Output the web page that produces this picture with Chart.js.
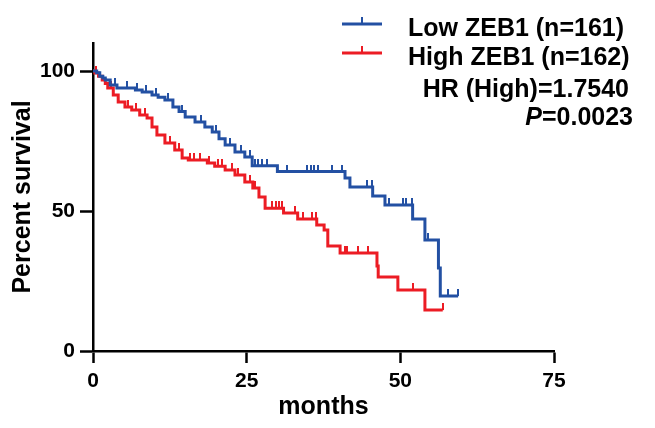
<!DOCTYPE html>
<html>
<head>
<meta charset="utf-8">
<script src="https://cdn.jsdelivr.net/npm/chart.js@4.4.1/dist/chart.umd.min.js"></script>
<style>
  html, body { margin: 0; padding: 0; background: #fff; }
  #wrap { width: 655px; height: 428px; }
</style>
</head>
<body>
<div id="wrap"><canvas id="kmChart" width="655" height="428"></canvas></div>
<script>
// Kaplan-Meier steps: time (months) where survival drops, and the new level (%)
const lowTimes = [0, 0.6, 1.1, 1.6, 2.0, 2.8, 3.9, 6.9, 8.0, 9.6, 10.6, 11.7, 13.0, 14.0, 15.0, 16.6, 18.2, 19.4, 20.5, 21.5, 23.1, 24.7, 25.9, 30.0, 41.0, 41.8, 45.5, 47.5, 52.0, 54.0, 56.2, 56.5]
const lowSurvival = [100, 99.4, 98.1, 97.5, 96.8, 95.0, 93.9, 93.2, 92.5, 91.4, 90.6, 89.6, 87.1, 85.5, 83.6, 81.8, 80.0, 78.2, 75.8, 73.6, 71.1, 69.3, 66.2, 64.1, 61.8, 58.6, 55.4, 52.1, 47.1, 39.6, 29.6, 19.6]
const lowCensored = [3.5, 5.5, 7.2, 8.6, 10.2, 12.2, 14.5, 17.5, 20.0, 22.3, 24.0, 25.5, 26.3, 26.8, 27.5, 28.3, 31.6, 34.8, 35.4, 36.0, 36.6, 38.9, 40.5, 44.6, 45.4, 48.2, 50.4, 51.0, 51.9, 54.5, 57.8, 59.4]

const highTimes = [0, 0.3, 0.9, 1.5, 2.0, 2.4, 3.3, 4.1, 5.2, 6.3, 7.6, 8.8, 9.6, 10.4, 11.7, 13.3, 14.5, 15.5, 18.6, 19.8, 21.5, 23.1, 24.7, 26.0, 27.0, 28.0, 31.0, 33.3, 36.4, 37.6, 38.2, 40.2, 46.2, 46.4, 49.6, 54.0]
const highSurvival = [100, 99.3, 98.1, 96.8, 95.5, 93.9, 91.4, 88.9, 87.1, 86.1, 84.3, 83.2, 80.0, 77.1, 74.3, 71.8, 68.9, 68.2, 67.1, 66.0, 64.6, 62.9, 60.4, 58.2, 55.0, 51.0, 49.3, 47.1, 45.0, 43.2, 37.5, 35.0, 30.4, 26.4, 21.8, 14.6]
const highCensored = [0.5, 3.0, 5.7, 7.0, 8.5, 12.5, 14.0, 15.8, 16.4, 17.4, 18.9, 20.3, 21.0, 22.6, 23.6, 25.5, 26.3, 29.2, 29.8, 30.3, 30.8, 32.9, 34.2, 35.6, 36.2, 41.0, 41.4, 43.1, 44.7, 52.0, 56.9]

const groupLabels = ['Low ZEB1 (n=161)', 'High ZEB1 (n=162)']
const hrText = 'HR (High)=1.7540'
const pText = '=0.0023'
const xTicks = [0, 25, 50, 75]
const yTicks = [0, 50, 100]

const BLUE = '#2350a3'
const RED = '#ec1c24'
const FONT = '"Liberation Sans", Arial, Helvetica, sans-serif'

function levelAt(times, surv, t) {
  let v = surv[0]
  for (let i = 0; i < times.length; i++) {
    if (times[i] <= t) v = surv[i]
  }
  return v
}

function curve(times, surv, censored) {
  const pts = times.map((t, i) => ({ x: t, y: surv[i] }))
  const end = censored[censored.length - 1]
  pts.push({ x: end, y: levelAt(times, surv, end) })
  return pts
}

function marks(times, surv, censored) {
  return censored.map(t => ({ x: t, y: levelAt(times, surv, t) }))
}

// small upward tick used for censored cases
function censorMark(color) {
  const c = document.createElement('canvas')
  c.width = 2
  c.height = 14
  const g = c.getContext('2d')
  g.fillStyle = color
  g.fillRect(0, 0, 2, 7)
  return c
}

const legendPlugin = {
  id: 'gpLegend',
  afterDraw(chart) {
    const ctx = chart.ctx
    ctx.save()
    const rows = [[BLUE, 24, 36], [RED, 53, 65]]
    rows.forEach(([color, ly, by], i) => {
      ctx.strokeStyle = color
      ctx.lineWidth = 3
      ctx.beginPath()
      ctx.moveTo(342, ly)
      ctx.lineTo(382, ly)
      ctx.stroke()
      ctx.lineWidth = 2
      ctx.beginPath()
      ctx.moveTo(362, ly)
      ctx.lineTo(362, ly - 7)
      ctx.stroke()
      ctx.fillStyle = '#000'
      ctx.font = 'bold 25px ' + FONT
      ctx.textAlign = 'left'
      ctx.textBaseline = 'alphabetic'
      ctx.fillText(groupLabels[i], 408, by)
    })
    ctx.textAlign = 'right'
    ctx.fillText(hrText, 629, 97)
    ctx.fillText(pText, 633, 125)
    const w = ctx.measureText(pText).width
    ctx.font = 'italic bold 25px ' + FONT
    ctx.fillText('P', 633 - w, 125)
    ctx.restore()
  }
}

const ctx = document.getElementById('kmChart')

new Chart(ctx, {
  type: 'line',
  data: {
    datasets: [
      {
        label: groupLabels[0],
        data: curve(lowTimes, lowSurvival, lowCensored),
        borderColor: BLUE,
        borderWidth: 3,
        stepped: true,
        pointRadius: 0,
        clip: 6
      },
      {
        type: 'scatter',
        data: marks(lowTimes, lowSurvival, lowCensored),
        pointStyle: censorMark(BLUE),
        clip: 10
      },
      {
        label: groupLabels[1],
        data: curve(highTimes, highSurvival, highCensored),
        borderColor: RED,
        borderWidth: 3,
        stepped: true,
        pointRadius: 0,
        clip: 6
      },
      {
        type: 'scatter',
        data: marks(highTimes, highSurvival, highCensored),
        pointStyle: censorMark(RED),
        clip: 10
      }
    ]
  },
  options: {
    responsive: false,
    animation: false,
    layout: { padding: { top: 43, right: 101, left: 0, bottom: 0 } },
    plugins: {
      legend: { display: false },
      tooltip: { enabled: false }
    },
    scales: {
      x: {
        type: 'linear',
        min: 0,
        max: 75,
        afterBuildTicks: s => { s.ticks = xTicks.map(v => ({ value: v })) },
        afterFit: s => { s.height = 77 },
        grid: { drawOnChartArea: false, tickLength: 12, tickWidth: 2.5, tickColor: '#000' },
        border: { color: '#000', width: 2.5 },
        ticks: { color: '#000', padding: 6, maxRotation: 0, font: { family: FONT, size: 21, weight: 'bold' } },
        title: {
          display: true,
          text: 'months',
          color: '#000',
          padding: { top: 0, bottom: 6 },
          font: { family: FONT, size: 25, weight: 'bold' }
        }
      },
      y: {
        min: 0,
        max: 110,
        afterBuildTicks: s => { s.ticks = yTicks.map(v => ({ value: v })) },
        afterFit: s => { s.width = 93 },
        grid: { drawOnChartArea: false, tickLength: 13, tickWidth: 2.5, tickColor: '#000' },
        border: { color: '#000', width: 2.5 },
        ticks: { color: '#000', padding: 5, font: { family: FONT, size: 21, weight: 'bold' } },
        title: {
          display: true,
          text: 'Percent survival',
          color: '#000',
          padding: { top: 8, bottom: 0 },
          font: { family: FONT, size: 25, weight: 'bold' }
        }
      }
    }
  },
  plugins: [legendPlugin]
})
</script>
</body>
</html>
